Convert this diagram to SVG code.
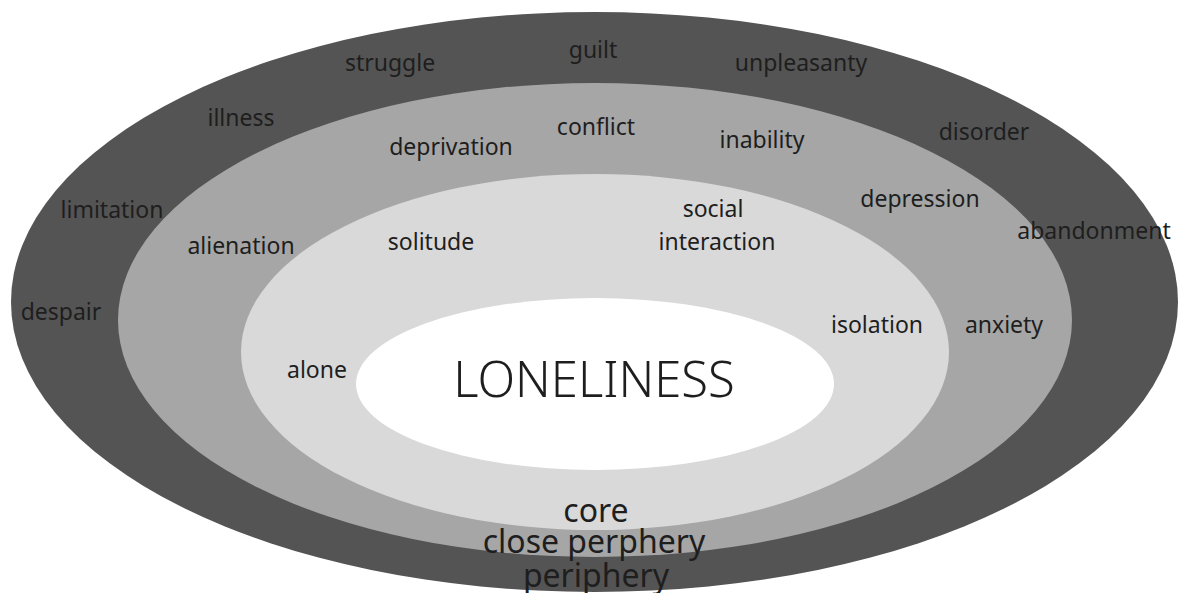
<svg xmlns="http://www.w3.org/2000/svg" width="1179" height="593" viewBox="0 0 1179 593">
  <style>
    text { font-family: "Noto Sans", "Open Sans", sans-serif; fill: #1e1e1e; text-anchor: middle; }
    .w { font-size: 23px; }
    .big { font-size: 49px; font-weight: 300; }
    .lbl { font-size: 32px; }
  </style>
  <rect width="1179" height="593" fill="#ffffff"/>
  <g id="periphery-ring"><ellipse cx="594.5" cy="302" rx="583.5" ry="290" fill="#545454"/></g>
  <g id="close-periphery-ring"><ellipse cx="595" cy="320" rx="477" ry="237" fill="#a6a6a6"/></g>
  <g id="core-ring"><ellipse cx="595" cy="352" rx="354" ry="178" fill="#d9d9d9"/></g>
  <g id="center"><ellipse cx="595" cy="384" rx="239" ry="86" fill="#ffffff"/>
    <text class="big" x="594" y="397">LONELINESS</text></g>
  <g id="connectors"></g>
  <g id="periphery-words">
    <text class="w" x="390" y="71">struggle</text>
    <text class="w" x="593" y="58">guilt</text>
    <text class="w" x="801" y="71">unpleasanty</text>
    <text class="w" x="241" y="126">illness</text>
    <text class="w" x="984" y="140">disorder</text>
    <text class="w" x="112" y="218">limitation</text>
    <text class="w" x="1094" y="239">abandonment</text>
    <text class="w" x="61" y="320">despair</text>
  </g>
  <g id="close-periphery-words">
    <text class="w" x="596" y="135">conflict</text>
    <text class="w" x="451" y="155">deprivation</text>
    <text class="w" x="762" y="148">inability</text>
    <text class="w" x="920" y="207">depression</text>
    <text class="w" x="241" y="254">alienation</text>
    <text class="w" x="1004" y="333">anxiety</text>
  </g>
  <g id="core-words">
    <text class="w" x="431" y="250">solitude</text>
    <text class="w" x="713" y="217">social</text>
    <text class="w" x="717" y="250">interaction</text>
    <text class="w" x="877" y="333">isolation</text>
    <text class="w" x="317" y="378">alone</text>
  </g>
  <g id="ring-labels">
    <text class="lbl" x="596" y="522">core</text>
    <text class="lbl" x="594" y="553">close perphery</text>
    <text class="lbl" x="596" y="587">periphery</text>
  </g>
</svg>
